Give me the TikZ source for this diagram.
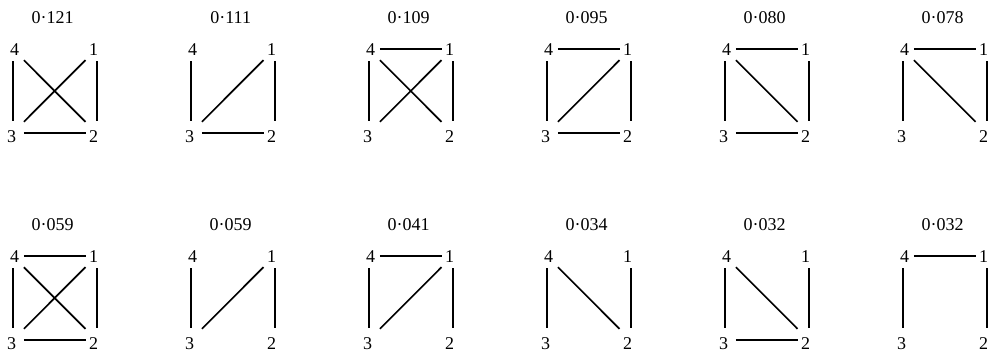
\documentclass[tikz,border=0pt]{standalone}
\usepackage{fontspec}
\setmainfont{Liberation Serif}
\usetikzlibrary{positioning}
% one four-vertex graph: name, x, y (vertex 4), title, edge list
\newcommand{\quadgraph}[5]{%
	\node[vtx, label={[num, xshift=2pt, yshift=-1pt]center:4}] (#1-4) at (#2,#3) {};
	\node[vtx, label={[num, xshift=-3pt, yshift=-1pt]center:1}] (#1-1) at (#2+84,#3) {};
	\node[vtx, label={[num, xshift=-1pt, yshift=-4pt]center:3}] (#1-3) at (#2,#3+84) {};
	\node[vtx, label={[num, xshift=-3pt, yshift=-4pt]center:2}] (#1-2) at (#2+84,#3+84) {};
	\node[ttl] (#1-t) at (#2+40,#3-31) {#4};
	\foreach \a/\b in {#5} \draw[edge] (#1-\a) -- (#1-\b);
}

\begin{document}
\begin{tikzpicture}[
		x=1pt, y=-1pt,
		font=\fontsize{18}{20}\selectfont,
		vtx/.style={rectangle, inner sep=0pt, minimum width=22pt,
				minimum height=24pt},
		num/.style={inner sep=0pt},
		ttl/.style={inner sep=0pt},
		edge/.style={line width=1.7pt}
		]
		\useasboundingbox (0,0) rectangle (989,353);
		% top row
		\quadgraph{g1}{12.7}{49}{0·121}{4/3, 1/2, 3/2, 4/2, 3/1}
		\quadgraph{g2}{190.7}{49}{0·111}{4/3, 1/2, 3/2, 3/1}
		\quadgraph{g3}{368.7}{49}{0·109}{4/1, 4/3, 1/2, 4/2, 3/1}
		\quadgraph{g4}{546.7}{49}{0·095}{4/1, 4/3, 1/2, 3/2, 3/1}
		\quadgraph{g5}{724.7}{49}{0·080}{4/1, 4/3, 1/2, 3/2, 4/2}
		\quadgraph{g6}{902.7}{49}{0·078}{4/1, 4/3, 1/2, 4/2}
		% bottom row
		\quadgraph{g7}{12.7}{256}{0·059}{4/1, 4/3, 1/2, 3/2, 4/2, 3/1}
		\quadgraph{g8}{190.7}{256}{0·059}{4/3, 1/2, 3/1}
		\quadgraph{g9}{368.7}{256}{0·041}{4/1, 4/3, 1/2, 3/1}
		\quadgraph{g10}{546.7}{256}{0·034}{4/3, 1/2, 4/2}
		\quadgraph{g11}{724.7}{256}{0·032}{4/3, 1/2, 3/2, 4/2}
		\quadgraph{g12}{902.7}{256}{0·032}{4/1, 4/3, 1/2}
	\end{tikzpicture}
\end{document}
